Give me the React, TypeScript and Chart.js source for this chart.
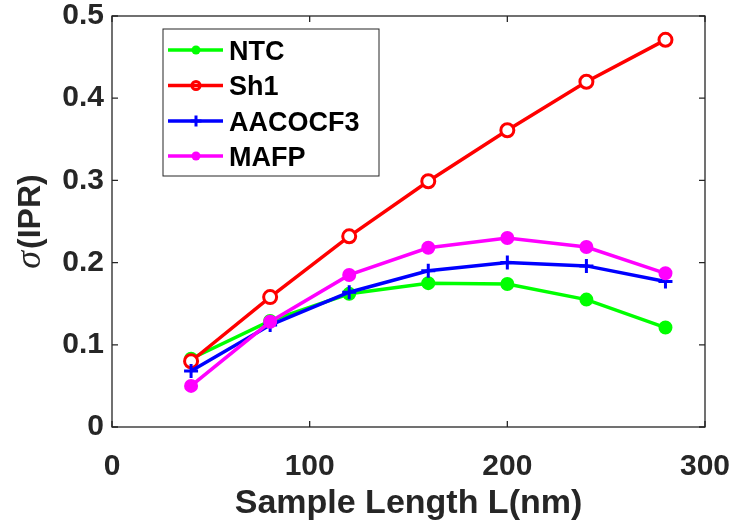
import React, { useEffect, useRef } from "react";
import { Chart, registerables } from "chart.js";

Chart.register(...registerables);

const lengths = [40, 80, 120, 160, 200, 240, 280];
const ntc = [0.083, 0.129, 0.162, 0.175, 0.174, 0.155, 0.121];
const sh1 = [0.080, 0.158, 0.232, 0.299, 0.361, 0.420, 0.471];
const aacocf3 = [0.068, 0.124, 0.164, 0.190, 0.200, 0.196, 0.177];
const mafp = [0.050, 0.128, 0.185, 0.218, 0.230, 0.219, 0.187];
const seriesNames = ["NTC", "Sh1", "AACOCF3", "MAFP"];
const xTitle = "Sample Length L(nm)";
const yTitleSym = "σ";
const yTitleRest = "(IPR)";

const AX = "#262626";
const SANS = "'Liberation Sans', Arial, sans-serif";

function drawMarker(ctx: CanvasRenderingContext2D, kind: string, color: string, x: number, y: number, r: number) {
  ctx.save();
  ctx.strokeStyle = color;
  ctx.fillStyle = color;
  ctx.lineWidth = 3;
  if (kind === "dot") {
    ctx.beginPath();
    ctx.arc(x, y, r, 0, Math.PI * 2);
    ctx.fill();
  } else if (kind === "ring") {
    ctx.beginPath();
    ctx.arc(x, y, r, 0, Math.PI * 2);
    ctx.stroke();
  } else {
    ctx.beginPath();
    ctx.moveTo(x - r, y);
    ctx.lineTo(x + r, y);
    ctx.moveTo(x, y - r);
    ctx.lineTo(x, y + r);
    ctx.stroke();
  }
  ctx.restore();
}

const framePlugin = {
  id: "frame",
  afterDraw(chart: any) {
    const { ctx, chartArea: a, scales } = chart;
    const x = scales.x;
    const y = scales.y;
    ctx.save();
    ctx.strokeStyle = AX;
    ctx.lineWidth = 1.3;
    ctx.strokeRect(a.left, a.top, a.right - a.left, a.bottom - a.top);
    const tl = 6;
    ctx.beginPath();
    x.ticks.forEach((t: any) => {
      const px = x.getPixelForValue(t.value);
      ctx.moveTo(px, a.bottom);
      ctx.lineTo(px, a.bottom - tl);
      ctx.moveTo(px, a.top);
      ctx.lineTo(px, a.top + tl);
    });
    y.ticks.forEach((t: any) => {
      const py = y.getPixelForValue(t.value);
      ctx.moveTo(a.left, py);
      ctx.lineTo(a.left + tl, py);
      ctx.moveTo(a.right, py);
      ctx.lineTo(a.right - tl, py);
    });
    ctx.stroke();

    // x title
    ctx.fillStyle = AX;
    ctx.font = `bold 34px ${SANS}`;
    ctx.textAlign = "center";
    ctx.textBaseline = "alphabetic";
    ctx.fillText(xTitle, (a.left + a.right) / 2, 513);

    // y title
    ctx.save();
    ctx.translate(28, (a.top + a.bottom) / 2);
    ctx.rotate(-Math.PI / 2);
    const symFont = `italic 36px 'Liberation Serif', 'DejaVu Serif', serif`;
    const restFont = `bold 32px ${SANS}`;
    ctx.font = symFont;
    const w1 = ctx.measureText(yTitleSym).width;
    ctx.font = restFont;
    const w2 = ctx.measureText(yTitleRest).width;
    const start = -(w1 + w2 + 2) / 2;
    ctx.textAlign = "left";
    ctx.font = symFont;
    ctx.fillText(yTitleSym, start, 12);
    ctx.font = restFont;
    ctx.fillText(yTitleRest, start + w1 + 2, 12);
    ctx.restore();

    // legend
    const lx = 163, ly = 29, lw = 216, lh = 147;
    ctx.fillStyle = "#ffffff";
    ctx.fillRect(lx, ly, lw, lh);
    ctx.strokeStyle = AX;
    ctx.lineWidth = 1;
    ctx.strokeRect(lx, ly, lw, lh);
    const rows = [50, 85.5, 121, 156];
    chart.data.datasets.forEach((ds: any, i: number) => {
      const cy = rows[i];
      ctx.strokeStyle = ds.borderColor;
      ctx.lineWidth = 3.5;
      ctx.beginPath();
      ctx.moveTo(168, cy);
      ctx.lineTo(223, cy);
      ctx.stroke();
      const kind = ds.pointStyle === "cross" ? "cross" : ds.pointBackgroundColor === "#ffffff" ? "ring" : "dot";
      drawMarker(ctx, kind, ds.borderColor, 196, cy, kind === "cross" ? 5.5 : kind === "ring" ? 4 : 4.5);
      ctx.fillStyle = "#000000";
      ctx.font = `bold 27px ${SANS}`;
      ctx.textAlign = "left";
      ctx.textBaseline = "alphabetic";
      ctx.fillText(ds.label, 229, cy + 9.7);
    });
    ctx.restore();
  },
};

export default function App() {
  const ref = useRef<HTMLCanvasElement | null>(null);
  useEffect(() => {
    document.body.style.margin = "0";
    if (!ref.current) return;
    const mk = (label: string, data: number[], color: string, style: string, fill: string, r: number, order: number) => ({
      label,
      data: lengths.map((l, i) => ({ x: l, y: data[i] })),
      borderColor: color,
      backgroundColor: color,
      pointBackgroundColor: fill,
      pointBorderColor: color,
      pointStyle: style,
      pointRadius: r,
      pointBorderWidth: 3,
      borderWidth: 3.5,
      tension: 0,
      order,
    });
    const chart = new Chart(ref.current, {
      type: "line",
      data: {
        datasets: [
          mk(seriesNames[0], ntc, "#00ff00", "circle", "#00ff00", 5.5, 4),
          mk(seriesNames[1], sh1, "#ff0000", "circle", "#ffffff", 6.5, 3),
          mk(seriesNames[2], aacocf3, "#0000ff", "cross", "#0000ff", 7, 2),
          mk(seriesNames[3], mafp, "#ff00ff", "circle", "#ff00ff", 5.5, 1),
        ] as any,
      },
      options: {
        responsive: false,
        animation: false,
        layout: { padding: { left: 0, top: 16, right: 29, bottom: 0 } },
        plugins: { legend: { display: false }, tooltip: { enabled: false } },
        scales: {
          x: {
            type: "linear",
            min: 0,
            max: 300,
            grid: { display: false, drawTicks: false },
            border: { display: false },
            ticks: {
              stepSize: 100,
              padding: 22,
              color: AX,
              font: { family: SANS, size: 30, weight: "bold" },
              maxRotation: 0,
            },
            afterFit: (s: any) => {
              s.height = 96;
              s.paddingLeft = 0;
              s.paddingRight = 0;
            },
          },
          y: {
            type: "linear",
            min: 0,
            max: 0.5,
            grid: { display: false, drawTicks: false },
            border: { display: false },
            ticks: {
              stepSize: 0.1,
              padding: 8,
              color: AX,
              font: { family: SANS, size: 30, weight: "bold" },
              callback: (v: any) => (Number(v) === 0 ? "0" : Number(v).toFixed(1)),
            },
            afterFit: (s: any) => {
              s.width = 112;
              s.paddingTop = 0;
              s.paddingBottom = 0;
            },
          },
        },
      },
      plugins: [framePlugin],
    });
    return () => chart.destroy();
  }, []);
  return (
    <div style={{ width: 734, height: 523 }}>
      <canvas ref={ref} width={734} height={523} style={{ display: "block" }} />
    </div>
  );
}
